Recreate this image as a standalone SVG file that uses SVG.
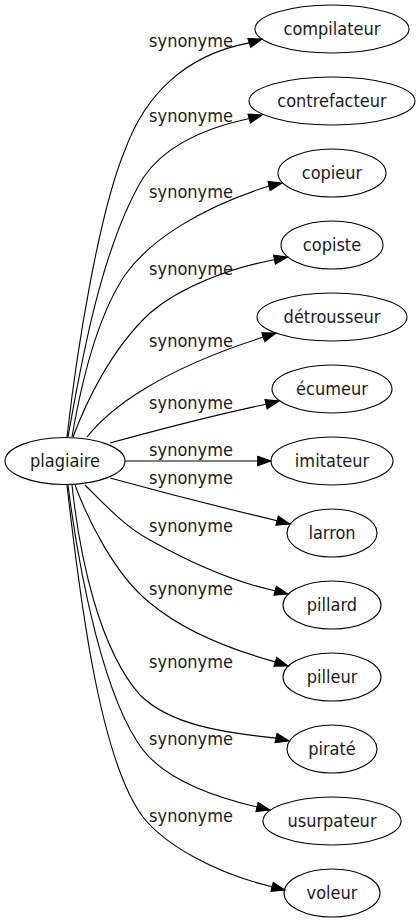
<svg xmlns="http://www.w3.org/2000/svg" width="420" height="923" viewBox="0 0 420 923">
<style>
text{font-family:"DejaVu Sans Condensed","DejaVu Sans",sans-serif;font-stretch:condensed;font-size:18px;fill:#1a1a1a}
.n text{text-anchor:middle}
.n ellipse{fill:none;stroke:#000;stroke-width:1.1}
.e path{fill:none;stroke:#000;stroke-width:1.1}
.e polygon{fill:#000;stroke:#000;stroke-width:1.1}
.l{text-anchor:middle}
</style>
<rect width="420" height="923" fill="#fff"/>
<g id="edges" class="e">
<path d="M67,437 C78,340 100,210 125,150 C145,95 185,55 249.3,42.9"/>
<polygon points="262,39 250.7,47.4 247.9,38.5"/>
<path d="M68,437 C80,370 100,250 143,178 C165,145 205,128 249.2,118.5"/>
<polygon points="262,115 250.4,123 248,114"/>
<path d="M72,437 C80,390 95,320 125,275 C150,240 200,208 269,186"/>
<polygon points="282,183 270.1,190.5 268,181.4"/>
<path d="M73,437 C85,405 110,350 150,313 C180,287 230,268 274.5,259.7"/>
<polygon points="287.5,257 275.4,264.2 273.6,255.1"/>
<path d="M87,437 C110,408 160,370 263.4,337.1"/>
<polygon points="276,333 264.8,341.5 261.9,332.7"/>
<path d="M110,443 C150,432 210,416 266.1,404.2"/>
<polygon points="279,401 267.2,408.8 265,399.7"/>
<path d="M125,461 L257.7,461"/>
<polygon points="271,461 257.7,465.7 257.7,456.3"/>
<path d="M110,478 C150,489 215,506 277.1,520.7"/>
<polygon points="290,524 275.9,525.2 278.3,516.2"/>
<path d="M85,485 C100,500 125,527 150,540 C182,558 225,580 275.1,590.7"/>
<polygon points="288,594 274,595.2 276.3,586.2"/>
<path d="M75,485 C88,520 115,575 150,603 C180,628 225,648 275.4,661.9"/>
<polygon points="288,666 273.9,666.3 276.8,657.5"/>
<path d="M72,485 C80,560 100,650 140,695 C170,725 225,733 276,738.1"/>
<polygon points="289,741 275,742.7 277,733.5"/>
<path d="M68,485 C80,580 105,700 143,750 C165,778 210,796 257,807"/>
<polygon points="270,810 256,811.5 258.1,802.5"/>
<path d="M67,485 C80,600 100,760 143,817 C165,845 215,873 272.1,886.8"/>
<polygon points="285,890 271,891.3 273.2,882.3"/>
<text class="l" x="191" y="47.2">synonyme</text>
<text class="l" x="191" y="122.2">synonyme</text>
<text class="l" x="191" y="198.2">synonyme</text>
<text class="l" x="191" y="274.8">synonyme</text>
<text class="l" x="191" y="346.5">synonyme</text>
<text class="l" x="191" y="408.8">synonyme</text>
<text class="l" x="191" y="455.5">synonyme</text>
<text class="l" x="191" y="483.8">synonyme</text>
<text class="l" x="191" y="531.5">synonyme</text>
<text class="l" x="191" y="594.5">synonyme</text>
<text class="l" x="191" y="667.8">synonyme</text>
<text class="l" x="191" y="745">synonyme</text>
<text class="l" x="191" y="821.5">synonyme</text>
</g>
<g id="plagiaire" class="n"><ellipse cx="65" cy="461" rx="60" ry="23.5"/><text x="65" y="467">plagiaire</text></g>
<g id="compilateur" class="n"><ellipse cx="332" cy="29" rx="77" ry="24"/><text x="332" y="35">compilateur</text></g>
<g id="contrefacteur" class="n"><ellipse cx="332" cy="101" rx="83" ry="24"/><text x="332" y="107">contrefacteur</text></g>
<g id="copieur" class="n"><ellipse cx="332" cy="173" rx="54" ry="24"/><text x="332" y="179">copieur</text></g>
<g id="copiste" class="n"><ellipse cx="332" cy="245" rx="51" ry="24"/><text x="332" y="251">copiste</text></g>
<g id="detrousseur" class="n"><ellipse cx="332" cy="317" rx="75" ry="24"/><text x="332" y="323">détrousseur</text></g>
<g id="ecumeur" class="n"><ellipse cx="332" cy="389" rx="60" ry="24"/><text x="332" y="395">écumeur</text></g>
<g id="imitateur" class="n"><ellipse cx="332" cy="461" rx="61" ry="24"/><text x="332" y="467">imitateur</text></g>
<g id="larron" class="n"><ellipse cx="332" cy="533" rx="45" ry="24"/><text x="332" y="539">larron</text></g>
<g id="pillard" class="n"><ellipse cx="332" cy="605" rx="49" ry="24"/><text x="332" y="611">pillard</text></g>
<g id="pilleur" class="n"><ellipse cx="332" cy="677" rx="49" ry="24"/><text x="332" y="683">pilleur</text></g>
<g id="pirate" class="n"><ellipse cx="332" cy="749" rx="45" ry="24"/><text x="332" y="755">piraté</text></g>
<g id="usurpateur" class="n"><ellipse cx="332" cy="821" rx="69" ry="24"/><text x="332" y="827">usurpateur</text></g>
<g id="voleur" class="n"><ellipse cx="332" cy="893" rx="48" ry="24"/><text x="332" y="899">voleur</text></g>
</svg>
